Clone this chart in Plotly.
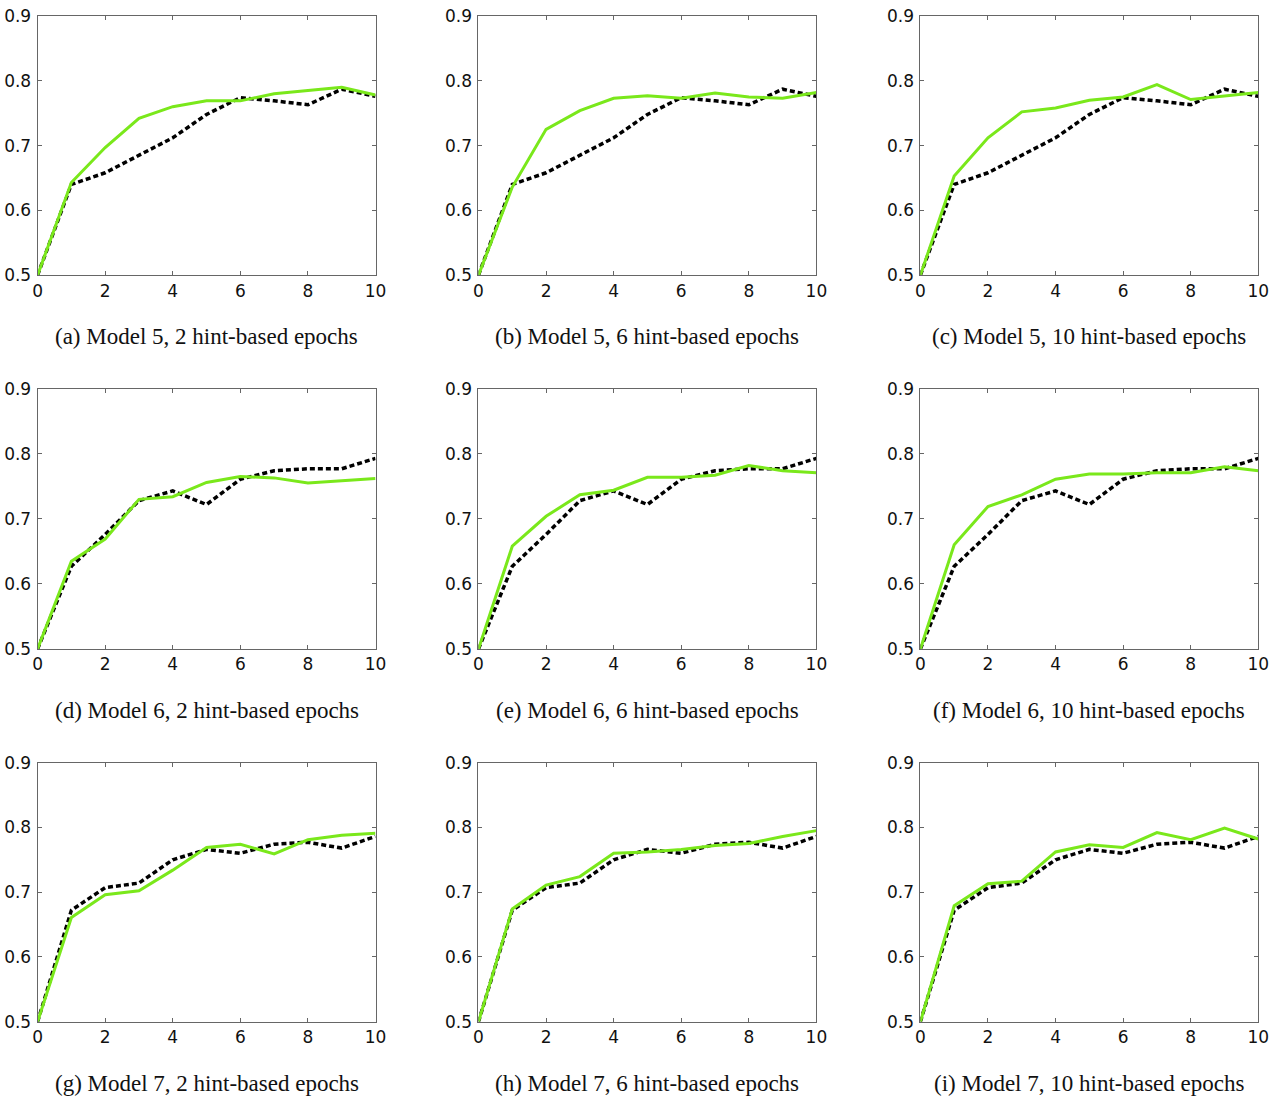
import plotly.graph_objects as go

epochs = list(range(11))

# Baselines (dashed black), one per model row
base_m5 = [0.50, 0.640, 0.658, 0.685, 0.712, 0.748, 0.774, 0.769, 0.763, 0.787, 0.776]
base_m6 = [0.50, 0.627, 0.676, 0.728, 0.743, 0.722, 0.761, 0.774, 0.777, 0.777, 0.793]
base_m7 = [0.50, 0.672, 0.707, 0.714, 0.750, 0.766, 0.760, 0.774, 0.777, 0.768, 0.786]

# Hint-based runs (green)
m5_h2 = [0.50, 0.643, 0.697, 0.742, 0.760, 0.769, 0.769, 0.780, 0.785, 0.790, 0.778]
m5_h6 = [0.50, 0.636, 0.725, 0.754, 0.773, 0.777, 0.773, 0.781, 0.775, 0.773, 0.782]
m5_h10 = [0.50, 0.653, 0.712, 0.752, 0.758, 0.770, 0.775, 0.794, 0.771, 0.776, 0.782]
m6_h2 = [0.50, 0.635, 0.669, 0.730, 0.734, 0.756, 0.765, 0.763, 0.755, 0.759, 0.762]
m6_h6 = [0.50, 0.658, 0.704, 0.737, 0.744, 0.764, 0.764, 0.767, 0.782, 0.774, 0.771]
m6_h10 = [0.50, 0.660, 0.719, 0.737, 0.761, 0.769, 0.769, 0.771, 0.771, 0.780, 0.774]
m7_h2 = [0.50, 0.661, 0.696, 0.702, 0.734, 0.769, 0.774, 0.759, 0.781, 0.788, 0.791]
m7_h6 = [0.50, 0.674, 0.711, 0.724, 0.760, 0.762, 0.766, 0.772, 0.775, 0.786, 0.795]
m7_h10 = [0.50, 0.679, 0.713, 0.717, 0.762, 0.773, 0.769, 0.792, 0.781, 0.799, 0.782]

captions = [
    "(a) Model 5, 2 hint-based epochs", "(b) Model 5, 6 hint-based epochs", "(c) Model 5, 10 hint-based epochs",
    "(d) Model 6, 2 hint-based epochs", "(e) Model 6, 6 hint-based epochs", "(f) Model 6, 10 hint-based epochs",
    "(g) Model 7, 2 hint-based epochs", "(h) Model 7, 6 hint-based epochs", "(i) Model 7, 10 hint-based epochs",
]
panels = [
    (base_m5, m5_h2), (base_m5, m5_h6), (base_m5, m5_h10),
    (base_m6, m6_h2), (base_m6, m6_h6), (base_m6, m6_h10),
    (base_m7, m7_h2), (base_m7, m7_h6), (base_m7, m7_h10),
]

W, H = 1278, 1101
# target on-screen pixel positions
col_px = [(37, 375), (478, 816), (920, 1258)]
row_px = [(14, 274), (388, 649), (763, 1023)]
cap_y = [336, 711, 1085]

# calibration of page placement observed in the rendered screenshot
SX, OX = 0.9877, 4.4
SY, OY = 0.985, 8.0
fx = lambda v: (v - OX) / SX
fy = lambda v: (v - OY) / SY

GREEN = "#7AE81B"
fig = go.Figure()
annotations = []
for i, (base, hint) in enumerate(panels):
    r, c = divmod(i, 3)
    n = i + 1
    xa = "x" if n == 1 else f"x{n}"
    ya = "y" if n == 1 else f"y{n}"
    fig.add_trace(go.Scatter(x=epochs, y=base, mode="lines", xaxis=xa, yaxis=ya,
                             line=dict(color="black", width=3.5, dash="5px,3px"),
                             showlegend=False))
    fig.add_trace(go.Scatter(x=epochs, y=hint, mode="lines", xaxis=xa, yaxis=ya,
                             line=dict(color=GREEN, width=3),
                             showlegend=False))
    x0, x1 = fx(col_px[c][0]), fx(col_px[c][1])
    y0, y1 = fy(row_px[r][0]), fy(row_px[r][1])
    common = dict(showgrid=False, zeroline=False, showline=True, mirror="ticks",
                  linecolor="#666666", linewidth=1, ticks="inside", ticklen=4,
                  tickcolor="#666666",
                  tickfont=dict(family="DejaVu Sans", size=17, color="#111111"))
    fig.update_layout(**{
        ("xaxis" if n == 1 else f"xaxis{n}"): dict(
            domain=[x0 / W, x1 / W], range=[0, 10], tickvals=[0, 2, 4, 6, 8, 10],
            anchor=ya, ticklabelstandoff=0, **common),
        ("yaxis" if n == 1 else f"yaxis{n}"): dict(
            domain=[1 - y1 / H, 1 - y0 / H], range=[0.5, 0.9],
            tickvals=[0.5, 0.6, 0.7, 0.8, 0.9], ticktext=["0.5", "0.6", "0.7", "0.8", "0.9"],
            anchor=xa, ticklabelstandoff=2, **common),
    })
    annotations.append(dict(text=captions[i], x=(x0 + x1) / 2 / W, y=1 - fy(cap_y[r]) / H,
                            xref="paper", yref="paper", showarrow=False,
                            xanchor="center", yanchor="middle",
                            font=dict(family="Liberation Serif", size=23, color="#111111")))

fig.update_layout(width=W, height=H, margin=dict(l=0, r=0, t=0, b=0),
                  paper_bgcolor="white", plot_bgcolor="white",
                  annotations=annotations)
fig.write_html("out.html")
